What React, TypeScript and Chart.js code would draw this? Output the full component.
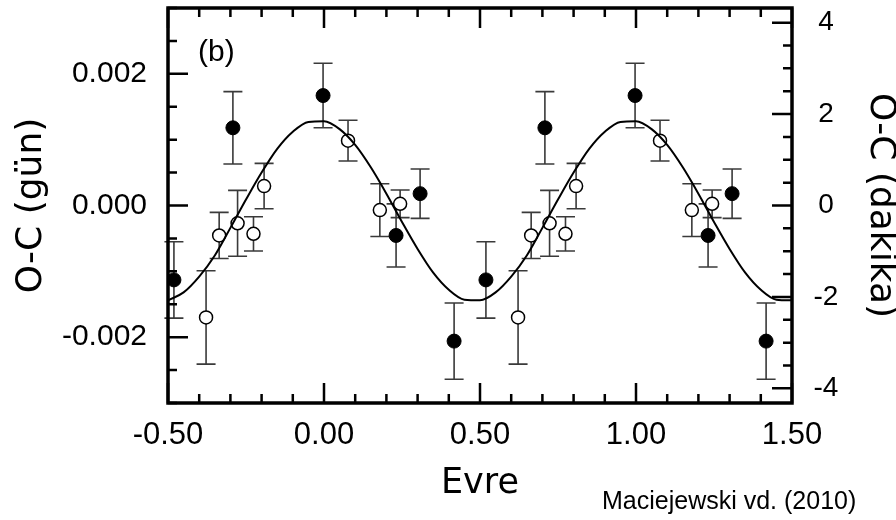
import React, { useEffect, useRef } from "react";
import { Chart, registerables } from "chart.js";

Chart.register(...registerables);

// ---- axis ranges & tick labels ----
const PHASE_MIN = -0.5;
const PHASE_MAX = 1.5;
const OC_MIN = -0.003; // days
const OC_MAX = 0.003;
const MIN_PER_DAY = 1440;

const X_TICKS = [-0.5, 0, 0.5, 1, 1.5];
const Y_TICKS = [-0.002, 0, 0.002];
const Y2_TICKS = [-4, -2, 0, 2, 4];
const X_MINOR_STEP = 0.1;
const Y_MINOR_STEP = 0.0005;
const Y2_MINOR_STEP = 0.5;

// ---- data (phase-folded O-C, days) ----
const FILLED_PHASE = [-0.481, -0.292, -0.003, 0.231, 0.308, 0.417];
const FILLED_OC = [-0.00113, 0.00118, 0.00167, -0.000455, 0.00018, -0.00206];
const FILLED_ERR = [0.00058, 0.00055, 0.00049, 0.00048, 0.000375, 0.00058];

const OPEN_PHASE = [-0.378, -0.336, -0.277, -0.226, -0.192, 0.077, 0.179, 0.244];
const OPEN_OC = [-0.0017, -0.000455, -0.00027, -0.00043, 0.000295, 0.000985, -0.00007, 0.000026];
const OPEN_ERR = [0.00071, 0.00035, 0.0005, 0.00026, 0.000345, 0.00031, 0.0004, 0.00021];

// the phase-folded data are shown over two cycles
const CYCLES = [0, 1];

// ---- fitted curve ----
const FIT_PHASE = [
  -0.5, -0.45, -0.4, -0.35, -0.3, -0.25, -0.2, -0.15, -0.1, -0.05,
  0.0, 0.05, 0.1, 0.15, 0.2, 0.25, 0.3, 0.35, 0.4, 0.45,
  0.5, 0.55, 0.6, 0.65, 0.7, 0.75, 0.8, 0.85, 0.9, 0.95,
  1.0, 1.05, 1.1, 1.15, 1.2, 1.25, 1.3, 1.35, 1.4, 1.45, 1.5,
];
const FIT_OC = [
  -0.00144, -0.00132, -0.00108, -0.00076, -0.00034, 0.00009, 0.0005, 0.00086, 0.00112, 0.00127,
  0.00128, 0.00116, 0.00092, 0.00058, 0.00018, -0.00025, -0.00066, -0.00102, -0.00128, -0.00143,
  -0.00144, -0.00132, -0.00108, -0.00076, -0.00034, 0.00009, 0.0005, 0.00086, 0.00112, 0.00127,
  0.00128, 0.00116, 0.00092, 0.00058, 0.00018, -0.00025, -0.00066, -0.00102, -0.00128, -0.00143,
  -0.00144,
];

const PANEL_LABEL = "(b)";
const CITATION = "Maciejewski vd. (2010)";
const X_TITLE = "Evre";
const Y_TITLE = "O-C (gün)";
const Y2_TITLE = "O-C (dakika)";

const SANS = '"Liberation Sans", Arial, sans-serif';
const TITLE_FONT = '"DejaVu Sans", Verdana, sans-serif';

function fold(phases: number[], oc: number[], err: number[]) {
  const out: { x: number; y: number; err: number }[] = [];
  CYCLES.forEach((c) => {
    phases.forEach((p, i) => {
      const x = p + c;
      if (x >= PHASE_MIN && x <= PHASE_MAX) out.push({ x, y: oc[i], err: err[i] });
    });
  });
  return out;
}

const errorBarPlugin = {
  id: "errorBars",
  beforeDatasetsDraw(chart: any) {
    const { ctx, scales } = chart;
    const xs = scales.x;
    const ys = scales.y;
    const cap = 9.5;
    ctx.save();
    ctx.strokeStyle = "#3a3a3a";
    ctx.lineWidth = 1.6;
    chart.data.datasets.forEach((ds: any) => {
      if (!ds.errorBars) return;
      ds.data.forEach((p: any) => {
        const px = xs.getPixelForValue(p.x);
        const top = ys.getPixelForValue(p.y + p.err);
        const bot = ys.getPixelForValue(p.y - p.err);
        ctx.beginPath();
        ctx.moveTo(px, top);
        ctx.lineTo(px, bot);
        ctx.moveTo(px - cap, top);
        ctx.lineTo(px + cap, top);
        ctx.moveTo(px - cap, bot);
        ctx.lineTo(px + cap, bot);
        ctx.stroke();
      });
    });
    ctx.restore();
  },
};

function isMajor(v: number, majors: number[]) {
  return majors.some((t) => Math.abs(t - v) < 1e-9);
}

const framePlugin = {
  id: "frameTicks",
  afterDraw(chart: any) {
    const { ctx, chartArea: a, scales } = chart;
    const xs = scales.x;
    const ys = scales.y;
    const y2s = scales.y2;
    const MAJOR = 20;
    const MINOR = 9;
    ctx.save();
    ctx.strokeStyle = "#000";
    ctx.lineWidth = 2.5;
    ctx.lineCap = "butt";
    ctx.beginPath();
    for (let i = Math.ceil(xs.min / X_MINOR_STEP - 1e-9); i * X_MINOR_STEP <= xs.max + 1e-9; i++) {
      const v = i * X_MINOR_STEP;
      const len = isMajor(v, X_TICKS) ? MAJOR : MINOR;
      const px = xs.getPixelForValue(v);
      ctx.moveTo(px, a.bottom);
      ctx.lineTo(px, a.bottom - len);
      ctx.moveTo(px, a.top);
      ctx.lineTo(px, a.top + len);
    }
    for (let i = Math.ceil(ys.min / Y_MINOR_STEP - 1e-9); i * Y_MINOR_STEP <= ys.max + 1e-12; i++) {
      const v = i * Y_MINOR_STEP;
      const len = isMajor(v, Y_TICKS) ? MAJOR : MINOR;
      const py = ys.getPixelForValue(v);
      ctx.moveTo(a.left, py);
      ctx.lineTo(a.left + len, py);
    }
    for (let i = Math.ceil(y2s.min / Y2_MINOR_STEP - 1e-9); i * Y2_MINOR_STEP <= y2s.max + 1e-9; i++) {
      const v = i * Y2_MINOR_STEP;
      const len = isMajor(v, Y2_TICKS) ? MAJOR : MINOR;
      const py = y2s.getPixelForValue(v);
      ctx.moveTo(a.right, py);
      ctx.lineTo(a.right - len, py);
    }
    ctx.stroke();
    ctx.lineWidth = 3.5;
    ctx.strokeRect(a.left, a.top, a.right - a.left, a.bottom - a.top);

    ctx.fillStyle = "#000";
    ctx.font = `30px ${SANS}`;
    ctx.textAlign = "left";
    ctx.textBaseline = "middle";
    ctx.fillText(PANEL_LABEL, a.left + 30, a.top + 45);

    ctx.font = `25px ${SANS}`;
    ctx.fillText(CITATION, 602, 502);
    ctx.restore();
  },
};

const noPadding = (s: any) => {
  s.paddingTop = 0;
  s.paddingBottom = 0;
  s.paddingLeft = 0;
  s.paddingRight = 0;
};

export default function App() {
  const canvasRef = useRef<HTMLCanvasElement | null>(null);

  useEffect(() => {
    const canvas = canvasRef.current;
    if (!canvas) return;

    const filled = fold(FILLED_PHASE, FILLED_OC, FILLED_ERR);
    const open = fold(OPEN_PHASE, OPEN_OC, OPEN_ERR);
    const fit = FIT_PHASE.map((p, i) => ({ x: p, y: FIT_OC[i] }));

    const chart = new Chart(canvas, {
      type: "scatter",
      data: {
        datasets: [
          {
            label: "fit",
            data: fit,
            showLine: true,
            borderColor: "#000",
            borderWidth: 2,
            pointRadius: 0,
            cubicInterpolationMode: "monotone",
            order: 0,
            yAxisID: "y",
          } as any,
          {
            label: "filled",
            data: filled,
            errorBars: true,
            pointRadius: 7,
            pointBackgroundColor: "#000",
            pointBorderColor: "#000",
            pointBorderWidth: 1,
            showLine: false,
            order: 1,
            yAxisID: "y",
          } as any,
          {
            label: "open",
            data: open,
            errorBars: true,
            pointRadius: 6.5,
            pointBackgroundColor: "#fff",
            pointBorderColor: "#000",
            pointBorderWidth: 1.5,
            showLine: false,
            order: 2,
            yAxisID: "y",
          } as any,
        ],
      },
      options: {
        animation: false,
        responsive: false,
        events: [],
        layout: { padding: { top: 7, left: 0, right: 0, bottom: 0 } },
        plugins: {
          legend: { display: false },
          tooltip: { enabled: false },
        },
        scales: {
          x: {
            type: "linear",
            position: "bottom",
            min: PHASE_MIN,
            max: PHASE_MAX,
            afterBuildTicks: (s: any) => {
              s.ticks = X_TICKS.map((v) => ({ value: v }));
            },
            afterFit: (s: any) => {
              s.height = 117;
              noPadding(s);
            },
            grid: { display: false, drawTicks: false },
            border: { display: false },
            ticks: {
              color: "#000",
              padding: 14,
              font: { family: SANS, size: 31 },
              callback: (v: any) => Number(v).toFixed(2),
            },
            title: {
              display: true,
              text: X_TITLE,
              color: "#000",
              font: { family: TITLE_FONT, size: 35 },
              padding: { top: 0, bottom: 15 },
            },
          },
          y: {
            type: "linear",
            position: "left",
            min: OC_MIN,
            max: OC_MAX,
            afterBuildTicks: (s: any) => {
              s.ticks = Y_TICKS.map((v) => ({ value: v }));
            },
            afterFit: (s: any) => {
              s.width = 168;
              noPadding(s);
            },
            grid: { display: false, drawTicks: false },
            border: { display: false },
            ticks: {
              color: "#000",
              padding: 21,
              font: { family: SANS, size: 30 },
              callback: (v: any) => Number(v).toFixed(3),
            },
            title: {
              display: true,
              text: Y_TITLE,
              color: "#000",
              font: { family: TITLE_FONT, size: 36, lineHeight: 1 },
              padding: { top: 14, bottom: 0 },
            },
          },
          y2: {
            type: "linear",
            position: "right",
            min: OC_MIN * MIN_PER_DAY,
            max: OC_MAX * MIN_PER_DAY,
            afterBuildTicks: (s: any) => {
              s.ticks = Y2_TICKS.map((v) => ({ value: v }));
            },
            afterFit: (s: any) => {
              s.width = 104;
              noPadding(s);
            },
            grid: { display: false, drawTicks: false },
            border: { display: false },
            ticks: {
              color: "#000",
              padding: 21.5,
              crossAlign: "center",
              font: { family: SANS, size: 28 },
              callback: (v: any) => String(v),
            },
            title: {
              display: true,
              text: Y2_TITLE,
              color: "#000",
              font: { family: TITLE_FONT, size: 36, lineHeight: 1 },
              padding: { top: -2, bottom: 0 },
            },
          },
        },
      } as any,
      plugins: [errorBarPlugin, framePlugin],
    });

    return () => chart.destroy();
  }, []);

  return (
    <div style={{ position: "absolute", left: 0, top: 0, width: 896, height: 520, background: "#fff" }}>
      <canvas ref={canvasRef} width={896} height={520} style={{ display: "block" }} />
    </div>
  );
}
